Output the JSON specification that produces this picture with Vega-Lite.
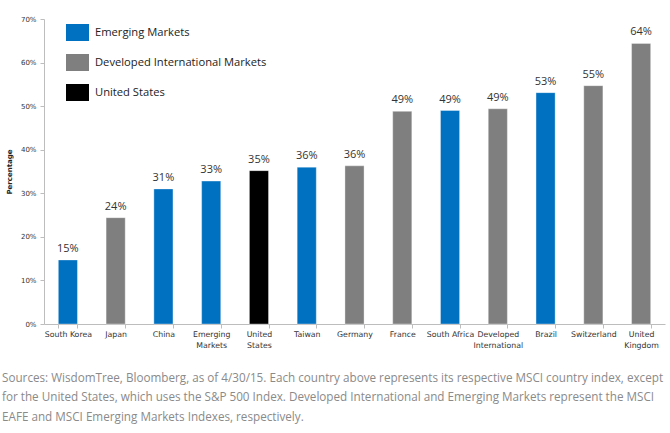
{
  "$schema": "https://vega.github.io/schema/vega-lite/v6.json",
  "width": 621,
  "height": 305,
  "autosize": {"type": "none"},
  "padding": {"left": 44, "top": 19, "right": 5, "bottom": 109},
  "background": "white",
  "config": {"view": {"stroke": null}},
  "title": {
    "text": [
      "Sources: WisdomTree, Bloomberg, as of 4/30/15. Each country above represents its respective MSCI country index, except",
      "for the United States, which uses the S&P 500 Index. Developed International and Emerging Markets represent the MSCI",
      "EAFE and MSCI Emerging Markets Indexes, respectively."
    ],
    "orient": "bottom",
    "anchor": "start",
    "frame": "group",
    "dx": -42,
    "offset": 24,
    "font": "Open Sans",
    "fontSize": 11.7,
    "fontWeight": "normal",
    "color": "#8a8a8a",
    "lineHeight": 19.5
  },
  "data": {
    "values": [
      {"country": "South Korea", "group": "Emerging Markets", "pe": 0.147},
      {"country": "Japan", "group": "Developed International Markets", "pe": 0.244},
      {"country": "China", "group": "Emerging Markets", "pe": 0.310},
      {"country": "Emerging Markets", "group": "Emerging Markets", "pe": 0.328},
      {"country": "United States", "group": "United States", "pe": 0.352},
      {"country": "Taiwan", "group": "Emerging Markets", "pe": 0.360},
      {"country": "Germany", "group": "Developed International Markets", "pe": 0.363},
      {"country": "France", "group": "Developed International Markets", "pe": 0.488},
      {"country": "South Africa", "group": "Emerging Markets", "pe": 0.490},
      {"country": "Developed International", "group": "Developed International Markets", "pe": 0.494},
      {"country": "Brazil", "group": "Emerging Markets", "pe": 0.531},
      {"country": "Switzerland", "group": "Developed International Markets", "pe": 0.547},
      {"country": "United Kingdom", "group": "Developed International Markets", "pe": 0.644}
    ]
  },
  "encoding": {
    "x": {
      "field": "country",
      "type": "nominal",
      "sort": null,
      "scale": {"paddingInner": 0.6, "paddingOuter": 0.3},
      "axis": {
        "title": null,
        "labelAngle": 0,
        "labelFont": "DejaVu Sans",
        "labelFontSize": 7.8,
        "labelColor": "#333333",
        "labelPadding": 2,
        "labelLineHeight": 11,
        "labelExpr": "indexof(['Emerging Markets','United States','Developed International','United Kingdom'], datum.value) >= 0 ? split(datum.value, ' ') : datum.value",
        "tickBand": "extent",
        "tickSize": 4,
        "tickColor": "#bdbdbd",
        "domainColor": "#bdbdbd"
      }
    },
    "y": {
      "field": "pe",
      "type": "quantitative",
      "scale": {"domain": [0, 0.7], "nice": false},
      "axis": {
        "title": "Percentage",
        "titleFont": "DejaVu Sans",
        "titleFontSize": 7,
        "titleFontWeight": "bold",
        "titleColor": "#222222",
        "titlePadding": 8,
        "values": [0, 0.1, 0.2, 0.3, 0.4, 0.5, 0.6, 0.7],
        "format": ".0%",
        "labelFont": "DejaVu Sans",
        "labelFontSize": 7,
        "labelColor": "#333333",
        "labelPadding": 4,
        "grid": false,
        "tickSize": 4,
        "tickColor": "#bdbdbd",
        "domainColor": "#bdbdbd"
      }
    }
  },
  "layer": [
    {
      "mark": {"type": "bar", "stroke": "#ffffff", "strokeOpacity": 0.35, "strokeWidth": 1},
      "encoding": {
        "color": {
          "field": "group",
          "type": "nominal",
          "scale": {
            "domain": ["Emerging Markets", "Developed International Markets", "United States"],
            "range": ["#0070C0", "#7F7F7F", "#000000"]
          },
          "legend": {
            "title": null,
            "orient": "none",
            "legendX": 25,
            "legendY": 5,
            "symbolType": "M-1.35,-1H1.35V1H-1.35Z",
            "symbolSize": 289,
            "symbolStrokeWidth": 0,
            "symbolOpacity": 1,
            "labelFont": "Open Sans",
            "labelFontSize": 11.2,
            "labelColor": "#222222",
            "labelOffset": 9,
            "rowPadding": 13,
            "labelLimit": 300
          }
        }
      }
    },
    {
      "mark": {"type": "text", "baseline": "bottom", "dy": -6, "font": "Open Sans", "fontSize": 11, "color": "#333333"},
      "encoding": {
        "text": {"field": "pe", "type": "quantitative", "format": ".0%"}
      }
    }
  ]
}
